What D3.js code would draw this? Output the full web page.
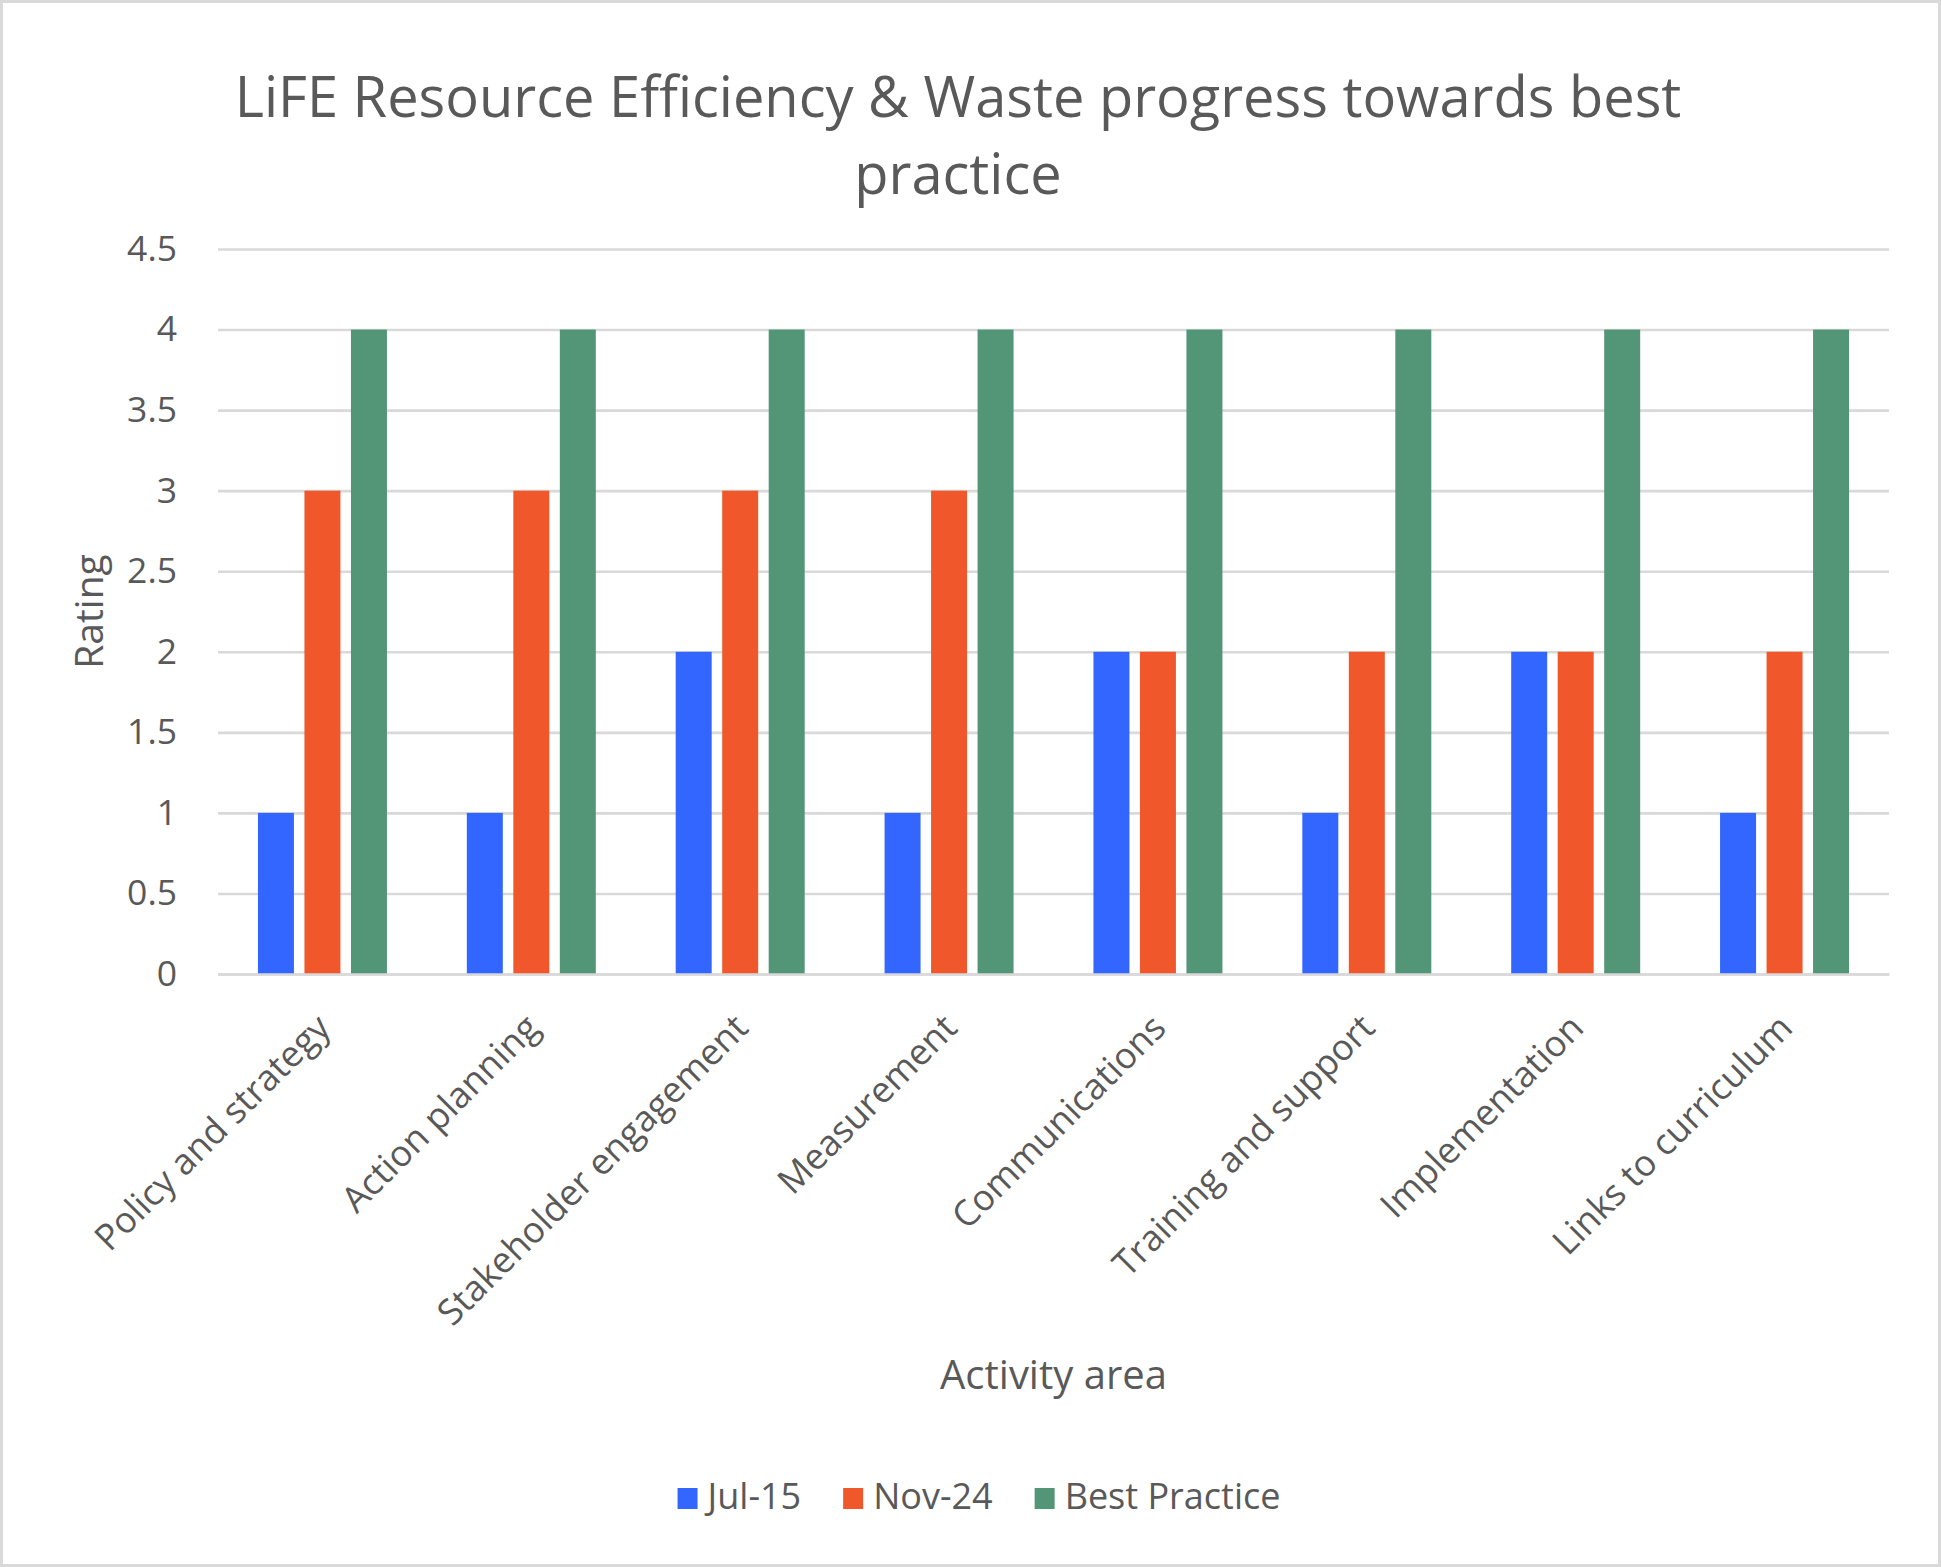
<!DOCTYPE html>
<html>
<head>
<meta charset="utf-8">
<script src="https://cdn.jsdelivr.net/npm/d3@7"></script>
<style>
  html, body { margin: 0; padding: 0; background: #ffffff; }
  svg { display: block; }
  text { font-family: "Open Sans", "Noto Sans", sans-serif; fill: #595959; }
</style>
</head>
<body>
<svg id="chart" width="1941" height="1567"></svg>
<script>
const categories = ["Policy and strategy", "Action planning", "Stakeholder engagement", "Measurement", "Communications", "Training and support", "Implementation", "Links to curriculum"];
const seriesNames = ["Jul-15", "Nov-24", "Best Practice"];
const jul15 = [1, 1, 2, 1, 2, 1, 2, 1];
const nov24 = [3, 3, 3, 3, 2, 2, 2, 2];
const bestPractice = [4, 4, 4, 4, 4, 4, 4, 4];
const yTicks = [0, 0.5, 1, 1.5, 2, 2.5, 3, 3.5, 4, 4.5];
const colors = ["#3366FF", "#F0582B", "#529577"];
const titleLines = ["LiFE Resource Efficiency & Waste progress towards best", "practice"];
const xTitle = "Activity area";
const yTitle = "Rating";

const seriesValues = [jul15, nov24, bestPractice];
const W = 1941, H = 1567;
const plot = { left: 218, right: 1889, top: 249, bottom: 974 };

const svg = d3.select("#chart");

// background + border
svg.append("rect").attr("x", 1.5).attr("y", 1.5).attr("width", W - 3).attr("height", H - 3)
  .attr("fill", "#ffffff").attr("stroke", "#d9d9d9").attr("stroke-width", 3);

const x0 = d3.scaleBand().domain(categories).range([plot.left, plot.right]).padding(0);
const x1 = d3.scaleBand().domain(seriesNames).range([0, x0.bandwidth()])
  .paddingInner(0.226).paddingOuter(0.859);
const y = d3.scaleLinear().domain([0, 4.5]).range([plot.bottom, plot.top]);

// gridlines
const yAxis = d3.axisLeft(y).tickValues(yTicks).tickSize(-(plot.right - plot.left)).tickPadding(41)
  .tickFormat(d3.format("~g"));
const gy = svg.append("g").attr("transform", `translate(${plot.left},0)`).call(yAxis);
gy.select(".domain").remove();
gy.selectAll(".tick line").attr("stroke", "#d9d9d9").attr("stroke-width", 2.6);
gy.selectAll(".tick text").attr("font-size", 35.5).attr("fill", "#595959")
  .style("font-family", '"Open Sans", sans-serif');

// bars
const groups = svg.append("g").selectAll("g").data(categories).join("g")
  .attr("transform", d => `translate(${x0(d)},0)`);
groups.selectAll("rect")
  .data((c, i) => seriesNames.map((s, k) => ({ s, k, v: seriesValues[k][i] })))
  .join("rect")
  .attr("x", d => x1(d.s))
  .attr("width", x1.bandwidth())
  .attr("y", d => y(d.v))
  .attr("height", d => y(0) - y(d.v))
  .attr("fill", d => colors[d.k]);

// x axis baseline
const xAxis = d3.axisBottom(x0).tickSize(0).tickFormat("");
const gx = svg.append("g").attr("transform", `translate(0,${plot.bottom})`).call(xAxis);
gx.select(".domain").attr("stroke", "#d9d9d9").attr("stroke-width", 2.6);

// category labels rotated
svg.append("g").selectAll("text").data(categories).join("text")
  .attr("transform", d => `translate(${x0(d) + x0.bandwidth() / 2 + 10},${plot.bottom + 56}) rotate(-45)`)
  .attr("text-anchor", "end")
  .attr("font-size", 36)
  .text(d => d);

// title
const title = svg.append("text").attr("text-anchor", "middle").attr("font-size", 56);
title.selectAll("tspan").data(titleLines).join("tspan")
  .attr("x", 958).attr("y", (d, i) => 117 + i * 77).text(d => d);

// axis titles
svg.append("text").attr("text-anchor", "middle").attr("font-size", 40)
  .attr("x", (plot.left + plot.right) / 2).attr("y", 1389).text(xTitle);
svg.append("text").attr("text-anchor", "middle").attr("font-size", 39)
  .attr("transform", `translate(103,${(plot.top + plot.bottom) / 2}) rotate(-90)`).text(yTitle);

// legend
const legend = svg.append("g");
let cx = 0;
seriesNames.forEach((s, k) => {
  const g = legend.append("g");
  g.append("rect").attr("x", 0).attr("y", -21).attr("width", 20).attr("height", 21).attr("fill", colors[k]);
  const t = g.append("text").attr("x", 30).attr("y", 0).attr("font-size", 36).text(s);
  const w = 30 + t.node().getComputedTextLength();
  g.attr("transform", `translate(${cx},0)`);
  cx += w + 42;
});
const totalW = cx - 42;
legend.attr("transform", `translate(${979 - totalW / 2},1509)`);
</script>
</body>
</html>
